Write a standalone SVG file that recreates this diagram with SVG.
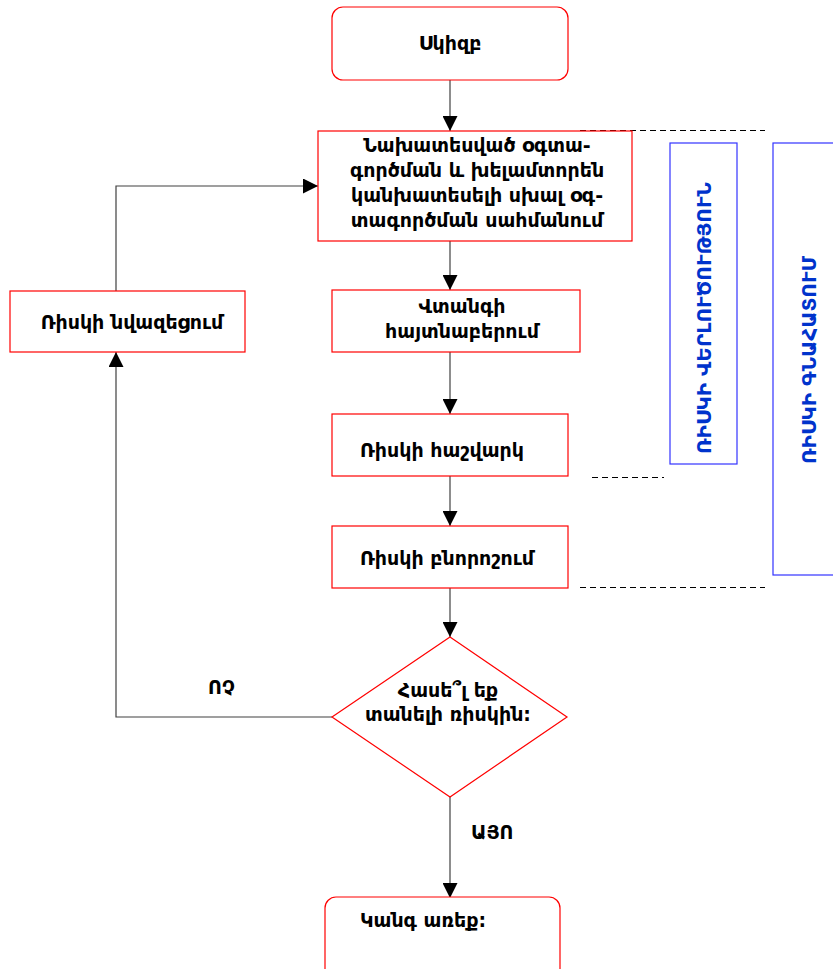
<svg xmlns="http://www.w3.org/2000/svg" width="833" height="969" viewBox="0 0 833 969">
<style>
.box{fill:#fff;stroke:#ff0000;stroke-width:1.2}
.band{fill:none;stroke:#3333ff;stroke-width:1.2}
.t{font-family:"DejaVu Sans",sans-serif;font-size:19px;font-weight:bold;fill:#000}
.c{text-anchor:middle}
.v{font-family:"DejaVu Sans",sans-serif;font-size:20px;font-weight:bold;fill:#0033cc}
.ln{fill:none;stroke:#404040;stroke-width:1.2}
.dash{fill:none;stroke:#000;stroke-width:1.2;stroke-dasharray:6,4}
</style>
<defs>
<marker id="ah" viewBox="0 0 15 15" refX="15" refY="7.5" markerWidth="15" markerHeight="15" markerUnits="userSpaceOnUse" orient="auto">
<path d="M0,0 L15,7.5 L0,15 Z" fill="#000"/>
</marker>
</defs>
<rect width="833" height="969" fill="#fff"/>
<g id="connectors">
<line class="ln" x1="450" y1="80" x2="450" y2="131" marker-end="url(#ah)"/>
<line class="ln" x1="450" y1="241" x2="450" y2="290" marker-end="url(#ah)"/>
<line class="ln" x1="450" y1="352" x2="450" y2="414" marker-end="url(#ah)"/>
<line class="ln" x1="450" y1="476" x2="450" y2="526" marker-end="url(#ah)"/>
<line class="ln" x1="450" y1="588" x2="450" y2="637" marker-end="url(#ah)"/>
<line class="ln" x1="450" y1="797" x2="450" y2="898" marker-end="url(#ah)"/>
<polyline class="ln" points="332,717 116,717 116,352" marker-end="url(#ah)"/>
<polyline class="ln" points="116,291 116,186 318,186" marker-end="url(#ah)"/>
<line class="dash" x1="580" y1="130.5" x2="765" y2="130.5"/>
<line class="dash" x1="592" y1="477.5" x2="664" y2="477.5"/>
<line class="dash" x1="580" y1="587.5" x2="765" y2="587.5"/>
<text class="t" x="208" y="694">ՈՉ</text>
<text class="t" x="471" y="839">ԱՅՈ</text>
</g>
<g id="start">
<rect class="box" x="332" y="7" width="236" height="73" rx="11"/>
<text class="t c" x="450" y="50">Սկիզբ</text>
</g>
<g id="define">
<rect class="box" x="318" y="131" width="314" height="110"/>
<text class="t c" x="477" y="152">Նախատեսված օգտա-</text>
<text class="t c" x="477" y="177">գործման և խելամտորեն</text>
<text class="t c" x="477" y="202">կանխատեսելի սխալ օգ-</text>
<text class="t c" x="477" y="227">տագործման սահմանում</text>
</g>
<g id="hazard">
<rect class="box" x="332" y="290" width="248" height="62"/>
<text class="t c" x="462" y="313">Վտանգի</text>
<text class="t c" x="462" y="338">հայտնաբերում</text>
</g>
<g id="estimate">
<rect class="box" x="332" y="414" width="236" height="62"/>
<text class="t" x="360" y="457">Ռիսկի հաշվարկ</text>
</g>
<g id="evaluate">
<rect class="box" x="332" y="526" width="236" height="62"/>
<text class="t" x="360" y="565">Ռիսկի բնորոշում</text>
</g>
<g id="decision">
<polygon class="box" points="450,637 567,717 450,797 332,717"/>
<text class="t c" x="448" y="697">Հասե՞լ եք</text>
<text class="t c" x="448" y="721">տանելի ռիսկին:</text>
</g>
<g id="stop">
<rect class="box" x="325" y="897" width="235" height="90" rx="11"/>
<text class="t" x="360" y="927">Կանգ առեք:</text>
</g>
<g id="reduce">
<rect class="box" x="10" y="291" width="235" height="61"/>
<text class="t c" x="132" y="329">Ռիսկի նվազեցում</text>
</g>
<g id="analysis">
<rect class="band" x="670" y="143" width="67" height="321"/>
<text class="v" x="711" y="454" transform="rotate(-90 711 454)">ՌԻՍԿԻ ՎԵՐԼՈՒԾՈՒԹՅՈՒՆ</text>
</g>
<g id="assessment">
<rect class="band" x="773" y="143" width="70" height="432"/>
<text class="v" x="816" y="464" transform="rotate(-90 816 464)">ՌԻՍԿԻ ԳՆԱՀԱՏՈՒՄ</text>
</g>
</svg>
